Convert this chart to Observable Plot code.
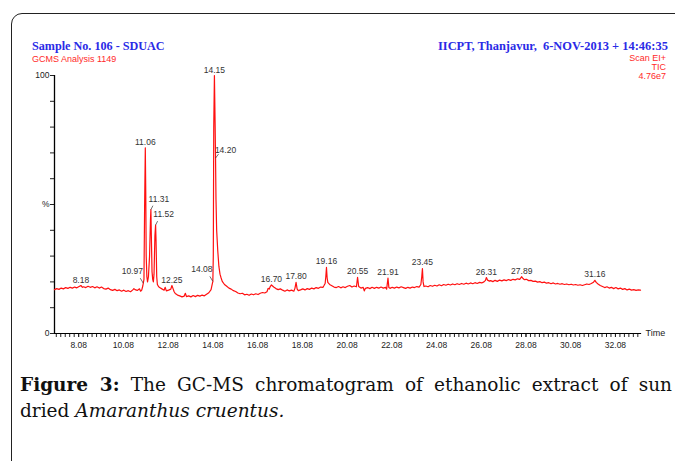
<!DOCTYPE html>
<html><head><meta charset="utf-8">
<script src="https://cdn.jsdelivr.net/npm/d3@7"></script>
<script src="https://cdn.jsdelivr.net/npm/@observablehq/plot@0.6"></script>
<style>
body{margin:0;background:#fff;width:675px;height:461px;overflow:hidden;position:relative;font-family:Arial,"Liberation Sans",sans-serif}
#frame{position:absolute;left:11px;top:13px;width:740px;height:520px;border:1.6px solid #222;border-radius:11px;box-sizing:border-box}
.hb{position:absolute;font-family:"Liberation Serif",serif;font-weight:bold;color:#2a2ae6;line-height:14px;white-space:pre;font-size:13.5px}
.hr{position:absolute;color:#ff2a2a;font-size:9px;line-height:9px;font-family:Arial,"Liberation Sans",sans-serif;white-space:pre}
#chart{position:absolute;left:0;top:0}
#cap{position:absolute;left:20px;top:372px;width:652px;font-family:"DejaVu Serif",serif;font-size:18.5px;line-height:26px;color:#111}
#cap .l1{text-align:justify;text-align-last:justify;white-space:nowrap}
</style></head>
<body>
<div id="frame"></div>
<div class="hb" style="left:32px;top:39px;transform:scaleX(0.9);transform-origin:left center">Sample No. 106 - SDUAC</div>
<div class="hb" style="right:7px;top:39px;text-align:right;transform:scaleX(0.92);transform-origin:right center">IICPT, Thanjavur,  6-NOV-2013 + 14:46:35</div>
<div class="hr" style="left:32px;top:55px">GCMS Analysis 1149</div>
<div class="hr" style="right:9px;top:54px;text-align:right">Scan EI+</div>
<div class="hr" style="right:9px;top:63px;text-align:right">TIC</div>
<div class="hr" style="right:9px;top:72px;text-align:right">4.76e7</div>
<div id="chart"></div>
<div id="cap"><div class="l1"><b>Figure 3:</b> The GC-MS chromatogram of ethanolic extract of sun</div><div>dried <i>Amaranthus cruentus.</i></div></div>
<script>
// Total ion chromatogram: [retention time (min), relative intensity (%)]
const trace = [
[7.0,17.0],[7.1,17.4],[7.2,17.1],[7.3,17.6],[7.4,17.3],[7.5,17.8],[7.6,17.5],[7.7,17.9],[7.8,17.6],[7.9,18.0],
[8.0,17.7],[8.1,18.2],[8.18,18.6],[8.25,17.9],[8.3,18.1],[8.4,17.8],[8.5,18.3],[8.6,17.9],[8.7,18.2],[8.8,17.7],
[8.9,18.1],[9.0,17.6],[9.1,18.0],[9.2,17.4],[9.3,17.2],[9.4,17.6],[9.5,17.0],[9.6,16.7],[9.7,17.1],[9.8,16.6],
[9.9,16.9],[10.0,16.4],[10.1,16.8],[10.2,16.3],[10.3,16.6],[10.4,16.2],[10.5,16.9],[10.55,17.4],[10.6,17.0],[10.7,16.7],
[10.8,17.3],[10.85,16.4],[10.9,16.8],[10.95,18.5],[10.97,19.5],[11.0,21],[11.03,50],[11.06,72],[11.08,55],[11.1,30],
[11.13,22],[11.16,20],[11.2,22],[11.25,30],[11.29,44],[11.31,48],[11.33,38],[11.36,24],[11.39,21],[11.42,20],
[11.45,23],[11.49,38],[11.52,42],[11.54,36],[11.57,22],[11.6,19],[11.65,18.2],[11.7,17.8],[11.8,17.3],[11.9,16.8],
[11.95,17.9],[12.0,16.5],[12.1,16.8],[12.2,17.2],[12.25,18.6],[12.3,17.4],[12.35,16.2],[12.4,15.5],[12.5,14.9],[12.6,14.6],
[12.7,14.2],[12.8,14.5],[12.85,15.6],[12.9,14.3],[13.0,14.6],[13.1,14.2],[13.2,14.7],[13.3,14.3],[13.4,14.8],[13.5,14.5],
[13.6,14.9],[13.7,14.6],[13.8,15.2],[13.9,15.8],[14.0,17.0],[14.05,19.0],[14.08,20.2],[14.1,30],[14.12,80],[14.15,100],
[14.18,82],[14.2,68],[14.22,52],[14.25,40],[14.3,32],[14.35,26],[14.4,23],[14.45,21.5],[14.5,20.2],[14.6,19.0],
[14.7,18.3],[14.8,17.6],[14.9,17.2],[15.0,16.6],[15.1,16.3],[15.2,15.7],[15.3,15.4],[15.4,15.6],[15.5,15.0],[15.6,15.2],
[15.7,14.8],[15.8,15.3],[15.9,15.0],[16.0,15.4],[16.1,15.1],[16.2,15.6],[16.3,15.9],[16.4,15.7],[16.5,16.2],[16.55,17.5],
[16.6,17.2],[16.65,18.3],[16.7,18.8],[16.75,18.4],[16.8,18.0],[16.9,17.4],[17.0,17.0],[17.1,17.3],[17.2,16.8],[17.3,16.4],
[17.4,16.9],[17.5,16.5],[17.6,16.8],[17.7,16.4],[17.75,17.5],[17.8,19.8],[17.85,17.2],[17.9,16.6],[18.0,16.9],[18.1,17.3],
[18.2,16.9],[18.3,17.4],[18.4,17.1],[18.5,17.6],[18.6,17.3],[18.7,17.8],[18.8,17.5],[18.9,18.0],[19.0,17.9],[19.05,18.6],
[19.1,19.4],[19.13,22],[19.16,25.6],[19.19,21.5],[19.22,19.8],[19.3,19.0],[19.4,18.5],[19.5,18.0],[19.6,17.8],[19.7,18.2],
[19.8,17.7],[19.9,18.1],[20.0,17.8],[20.1,18.3],[20.2,18.6],[20.3,18.0],[20.4,18.4],[20.5,18.1],[20.55,21.8],[20.6,18.2],
[20.7,17.6],[20.8,17.9],[20.85,16.5],[20.9,17.5],[21.0,17.8],[21.1,17.4],[21.2,17.9],[21.3,17.5],[21.4,17.9],[21.5,17.6],
[21.6,18.0],[21.7,17.6],[21.8,17.9],[21.85,17.2],[21.91,21.5],[21.95,17.8],[22.0,17.5],[22.1,17.9],[22.2,17.6],[22.3,18.0],
[22.4,17.7],[22.5,18.1],[22.6,17.8],[22.7,17.5],[22.8,17.9],[22.9,17.6],[23.0,18.0],[23.1,17.8],[23.2,18.2],[23.3,18.0],
[23.38,19.0],[23.42,22],[23.45,25.2],[23.48,20],[23.52,18.2],[23.6,18.4],[23.7,18.1],[23.8,18.6],[23.9,18.3],[24.0,18.7],
[24.1,18.4],[24.2,18.9],[24.3,18.5],[24.4,19.0],[24.5,18.7],[24.6,19.1],[24.7,18.8],[24.8,19.2],[24.9,18.9],[25.0,19.3],
[25.1,19.0],[25.2,19.4],[25.3,19.1],[25.4,19.5],[25.5,19.2],[25.6,19.6],[25.7,19.3],[25.8,19.7],[25.9,19.4],[26.0,19.8],
[26.1,19.6],[26.2,20.0],[26.27,20.6],[26.31,21.7],[26.36,20.7],[26.45,20.3],[26.5,20.5],[26.6,20.1],[26.7,20.6],[26.8,20.2],
[26.9,20.7],[27.0,20.4],[27.1,20.8],[27.2,20.5],[27.3,20.9],[27.4,20.6],[27.5,21.0],[27.6,20.8],[27.7,21.2],[27.8,21.0],
[27.89,22.0],[27.95,21.3],[28.0,20.9],[28.1,21.0],[28.2,20.5],[28.3,20.6],[28.4,20.2],[28.5,20.3],[28.6,19.9],[28.7,20.1],
[28.8,19.7],[28.9,19.9],[29.0,19.5],[29.1,19.7],[29.2,19.3],[29.3,19.6],[29.4,19.2],[29.5,19.4],[29.6,19.1],[29.7,19.3],
[29.8,19.0],[29.9,19.2],[30.0,18.9],[30.1,19.1],[30.2,18.8],[30.3,19.0],[30.4,18.7],[30.5,18.9],[30.6,18.6],[30.7,18.9],
[30.8,19.2],[30.9,19.0],[31.0,19.4],[31.1,19.9],[31.16,20.6],[31.22,19.8],[31.3,19.2],[31.4,18.6],[31.5,18.2],[31.6,17.8],
[31.7,18.1],[31.8,17.6],[31.9,17.9],[32.0,17.4],[32.1,17.8],[32.2,17.3],[32.3,17.6],[32.4,17.1],[32.5,17.4],[32.6,16.9],
[32.7,17.2],[32.8,16.8],[32.9,17.0],[33.0,16.7],[33.1,16.9],[33.2,16.8]
];

// Labelled peaks
const peakLabels  = ["8.18","10.97","11.06","11.31","11.52","12.25","14.08","14.15","14.20","16.70","17.80","19.16","20.55","21.91","23.45","26.31","27.89","31.16"];
const peakTimes   = [8.18,10.97,11.06,11.31,11.52,12.25,14.08,14.15,14.20,16.70,17.80,19.16,20.55,21.91,23.45,26.31,27.89,31.16];
const peakHeights = [18.6,19.5,72,48,42,18.6,20.2,100,68,18.8,19.8,25.6,21.8,21.5,25.2,21.7,22.0,20.6];

// Axis ticks
const xTickLabels = [8.08,10.08,12.08,14.08,16.08,18.08,20.08,22.08,24.08,26.08,28.08,30.08,32.08];
const yTicks = [0,10,20,30,40,50,60,70,80,90,100];
const yTickText = {0:"0",50:"%",100:"100"};
const xDomain = [7.0, 33.2];

// layout (code, not data)
const W = 675, H = 360, mL = 54, mR = 35, mT = 75, mB = 27;
const pxPerMin = (W - mL - mR) / (xDomain[1] - xDomain[0]);
const pxPerPct = (H - mT - mB) / 100;
// label offsets in pixels [dx, dy] relative to the peak, and leader end [lx, ly]
const labelOffset = {"10.97":[-11,-9,-3,-5],"11.31":[8,-8,2,-4],"11.52":[8,-8,2,-4],"14.08":[-11,-9,-3,-5],"14.20":[10,-5,3,-4]};

const pts = trace.map(([t, v]) => ({t, v}));
const peaks = peakLabels.map((l, i) => {
  const o = labelOffset[l] || [0, -3];
  return {label: l, t: peakTimes[i], v: peakHeights[i], dx: o[0], dy: o[1], lx: o[2], ly: o[3]};
});
const leaders = peaks.filter(p => p.lx !== undefined).map(p => ({
  x1: p.t, y1: p.v, x2: p.t + p.lx / pxPerMin, y2: p.v - p.ly / pxPerPct
}));
const minorTicks = d3.range(7.08, 33.1, 0.2);

const chart = Plot.plot({
  width: W, height: H,
  marginLeft: mL, marginRight: mR, marginTop: mT, marginBottom: mB,
  style: {fontFamily: "Arial, 'Liberation Sans', sans-serif", fontSize: "8.5px", color: "#222", background: "transparent"},
  x: {domain: xDomain},
  y: {domain: [0, 100]},
  marks: [
    Plot.axisY({ticks: yTicks, tickSize: 4, tickPadding: 1, tickFormat: d => yTickText[d] || "", label: null}),
    Plot.axisX({ticks: minorTicks, tickSize: 4, tickFormat: () => "", label: null}),
    Plot.axisX({ticks: xTickLabels, tickSize: 4, tickPadding: 4, tickFormat: d => d.toFixed(2), label: null}),
    Plot.ruleX([xDomain[0]], {y1: 0, y2: 100, stroke: "#000", strokeWidth: 1.3}),
    Plot.ruleY([0], {x1: xDomain[0], x2: 33.25, stroke: "#000", strokeWidth: 1}),
    Plot.text(["Time"], {x: xDomain[1], y: 0, dx: 5, textAnchor: "start", fontSize: 9, fill: "#222"}),
    Plot.line(pts, {x: "t", y: "v", stroke: "#ff1010", strokeWidth: 1.2}),
    Plot.link(leaders, {x1: "x1", y1: "y1", x2: "x2", y2: "y2", stroke: "#333", strokeWidth: 0.7}),
    ...peaks.map(p => Plot.text([p], {x: "t", y: "v", text: "label", dx: p.dx, dy: p.dy, lineAnchor: "bottom", fill: "#333", fontSize: 8.5}))
  ]
});
document.getElementById("chart").appendChild(chart);
</script>
</body></html>
